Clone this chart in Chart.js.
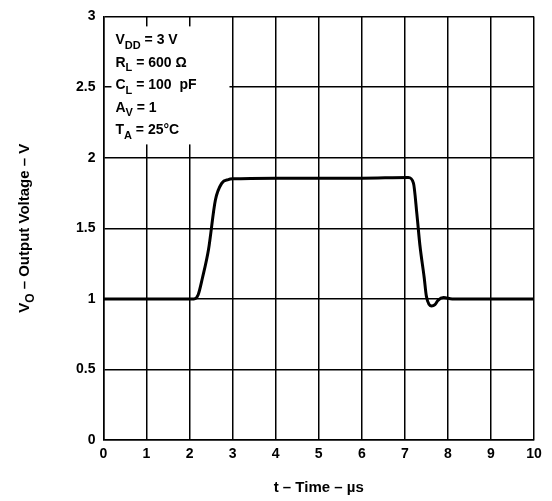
<!DOCTYPE html>
<html>
<head>
<script src="https://cdn.jsdelivr.net/npm/chart.js@4"></script>
<style>
  body { margin: 0; background: #fff; }
  #wrap { width: 552px; height: 501px; }
</style>
</head>
<body>
<div id="wrap"><canvas id="c"></canvas></div>
<script>
const timeUs = [0, 1, 2, 2.1, 2.2, 2.3, 2.44, 2.6, 2.75, 2.9, 3.0, 4, 5, 6, 7.08, 7.2, 7.28, 7.35, 7.45, 7.5, 7.62, 7.7, 7.77, 7.9, 8.1, 9, 10]
const voltage = [1.0, 1.0, 1.0, 1.0, 1.03, 1.15, 1.35, 1.70, 1.82, 1.845, 1.85, 1.855, 1.855, 1.855, 1.86, 1.82, 1.6, 1.38, 1.15, 1.02, 0.95, 0.96, 0.99, 1.01, 1.0, 1.0, 1.0]
const xTicks = [0, 1, 2, 3, 4, 5, 6, 7, 8, 9, 10]
const yTicks = [0, 0.5, 1, 1.5, 2, 2.5, 3]
const conditions = [
  ['V', 'DD', ' = 3 V'],
  ['R', 'L', ' = 600 \u03A9'],
  ['C', 'L', ' = 100  pF'],
  ['A', 'V', ' = 1'],
  ['T', 'A', ' = 25\u00B0C']
]

const FONT = 'Liberation Sans, Arial, sans-serif'

// draws text with subscripts: parts = [main, sub, rest]
function subText(ctx, x, y, parts, size) {
  ctx.font = 'bold ' + size + 'px ' + FONT
  ctx.fillText(parts[0], x, y)
  x += ctx.measureText(parts[0]).width
  ctx.font = 'bold ' + Math.round(size * 0.8) + 'px ' + FONT
  ctx.fillText(parts[1], x, y + size * 0.3)
  x += ctx.measureText(parts[1]).width
  ctx.font = 'bold ' + size + 'px ' + FONT
  ctx.fillText(parts[2], x, y)
  return x + ctx.measureText(parts[2]).width
}

const labels = {
  id: 'labels',
  afterDraw(chart) {
    const ctx = chart.ctx
    const a = chart.chartArea
    ctx.save()
    // white box behind the conditions
    ctx.fillStyle = '#fff'
    ctx.fillRect(a.left + 8, a.top + 10, 118, 118)
    ctx.fillStyle = '#000'
    ctx.textBaseline = 'alphabetic'
    conditions.forEach((c, i) => {
      subText(ctx, a.left + 12, a.top + 28 + i * 22.5, c, 14)
    })
    // y axis title
    ctx.translate(24, (a.top + a.bottom) / 2)
    ctx.rotate(-Math.PI / 2)
    const rest = ' \u2013 Output Voltage \u2013 V'
    ctx.font = 'bold 15px ' + FONT
    let w = ctx.measureText('V' + rest).width
    ctx.font = 'bold 12px ' + FONT
    w += ctx.measureText('O').width
    subText(ctx, -w / 2, 5, ['V', 'O', rest], 15)
    ctx.restore()
  }
}

new Chart(document.getElementById('c'), {
  type: 'line',
  data: {
    datasets: [{
      data: timeUs.map((t, i) => ({ x: t, y: voltage[i] })),
      borderColor: '#000',
      borderWidth: 3,
      pointRadius: 0,
      cubicInterpolationMode: 'monotone'
    }]
  },
  options: {
    responsive: true,
    maintainAspectRatio: false,
    animation: false,
    layout: { padding: { left: 68, right: 18, top: 5, bottom: 0 } },
    plugins: { legend: { display: false }, tooltip: { enabled: false } },
    scales: {
      x: {
        type: 'linear', min: 0, max: 10,
        afterBuildTicks: s => { s.ticks = xTicks.map(v => ({ value: v })) },
        grid: { color: '#000', lineWidth: 1.5, drawTicks: false },
        border: { color: '#000', width: 1.5 },
        ticks: { color: '#000', padding: 6, font: { family: FONT, size: 14, weight: 'bold' } },
        title: { display: true, text: 't \u2013 Time \u2013 \u00B5s', color: '#000', padding: { top: 10 }, font: { family: FONT, size: 15, weight: 'bold' } }
      },
      y: {
        type: 'linear', min: 0, max: 3,
        afterBuildTicks: s => { s.ticks = yTicks.map(v => ({ value: v })) },
        grid: { color: '#000', lineWidth: 1.5, drawTicks: false },
        border: { color: '#000', width: 1.5 },
        ticks: { color: '#000', padding: 8, callback: v => String(v), font: { family: FONT, size: 14, weight: 'bold' } }
      }
    }
  },
  plugins: [labels]
})
</script>
</body>
</html>
